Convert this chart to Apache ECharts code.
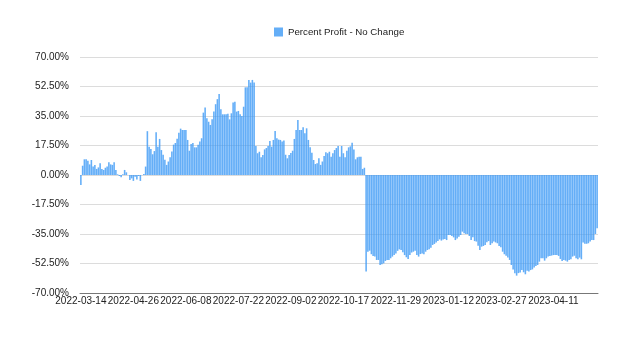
<!DOCTYPE html>
<html>
<head>
<meta charset="utf-8">
<script src="https://cdn.jsdelivr.net/npm/echarts@6/dist/echarts.min.js"></script>
<style>html,body{margin:0;padding:0;background:#fff}#c{width:640px;height:347px}</style>
</head>
<body>
<div id="c"></div>
<script>
// Series name
const seriesName = 'Percent Profit - No Change';
// Trading-day calendar: first date and NYSE holidays in the range
const startDate = '2022-03-14';
const holidays = ['2022-04-15','2022-05-30','2022-06-20','2022-07-04','2022-09-05','2022-11-24','2022-12-26','2023-01-02','2023-01-16','2023-02-20','2023-04-07'];
// Y-axis ticks (percent)
const yTicks = [-70, -52.5, -35, -17.5, 0, 17.5, 35, 52.5, 70];
// Percent profit values (one per trading day)
const profitA = [-6,5.5,9.3,9.3,8.5,6.3,8.9,5,6,3.6,4.5,7,3.6,3,4.3,5,7.5,6.3,6,7.5,3,0.4,-0.6,-1.4,0.5,3,1.6,0,-3,-2,-3.5,-1,-2.6,-0.6,-3.5,0,0.6,5,26,16.8,15.4,12.3,14.2,25.3,16.8,21.4];
const profitB = [14.8,12,9,6,8,10.5,14,18,19,21.5,25,27.5,26.7,26.7,26.7,20.8,14.4,18.4,19,16.4,16.4,18,19.8,21.8,37,40,33.6,31.6,29.7,33,37.6,42,45,48,39,36,36,36,36.4,33,36.6,43,43.5,37.6,38,36,35,40.5,52,52,56.4,54.8,56.4,54.8];
const profitC = [17.2,12.9,13.8,10.5,11.9,15.2,16,17.2,20.2,16.8,20.8,26.1,21.8,21,20.8,19.8,20.4,12,9.9,11.9,13,14.4,21.4,26.7,32.6,26.7,26.7,28.3,24.7,27.7,20.8,16.4,13.2,8.9,6.5,7,9.9,6,8,11.3,13.5,12.9,13.8,10.9,12.9,14.8,16,17.2,10.9,17.2,12.9,10.5,14.4,16.4,17,19.2,15.2,9.3,10.5,10.9,10.9,3.6,4.3];
const profitD = [-57.3,-45.5,-44.9,-47,-48,-48.4,-50.4,-50.4,-53.4,-53,-52.4,-51,-50.4,-50.4,-49.4,-48.4,-47.5,-46.5,-45,-44.1,-44.5,-45.9,-47.5,-48.8,-49.8,-47.5,-46,-45.5,-44.9,-47.5,-48.4,-46.9,-46.5,-47,-45.5,-44.5,-44,-43.1,-41.5,-40.9,-40,-39.2,-38.2,-38.9,-38.2,-38];
const profitE = [-38.6,-35.6,-35.6,-36.2,-37,-38.6,-37.6,-36.6,-35.6,-33.6,-34.5,-35,-35,-36.2,-38.6,-37,-39.2,-39.5,-42,-44.5,-42.5,-42.1,-41.5,-39.9,-39.2,-41.5,-40.5,-39.5,-40,-40.5,-42.1,-42.9,-45.5,-47,-47.9,-49,-50.4,-53.4,-56,-58.3];
const profitF = [-59.7,-58.2,-57.8,-56.4,-57.7,-58.9,-56.8,-57.3,-56.4,-56,-54.8,-54,-53.4,-51.4,-49.4,-49.4,-50.8,-49.4,-48.4,-48,-47.8,-47.5,-47.5,-47.5,-48,-49.8,-51,-50.4,-50.8,-51.4,-50.4,-50,-48.4,-47.9,-49.4,-50,-49,-50,-40,-40.8,-40.8,-40.5,-39.5,-38.6,-38.6,-35,-31.6];

const profit = [].concat(profitA, profitB, profitC, profitD, profitE, profitF);

function tradingDays(start, n, hol) {
  const out = [];
  const d = new Date(start + 'T00:00:00Z');
  while (out.length < n) {
    const s = d.toISOString().slice(0, 10);
    const wd = d.getUTCDay();
    if (wd !== 0 && wd !== 6 && hol.indexOf(s) < 0) out.push(s);
    d.setUTCDate(d.getUTCDate() + 1);
  }
  return out;
}
const dates = tradingDays(startDate, profit.length, holidays);

const chart = echarts.init(document.getElementById('c'), null, {renderer: 'canvas'});
const font = 'Liberation Sans, Arial, Helvetica, sans-serif';
chart.setOption({
  animation: false,
  textStyle: {fontFamily: font},
  legend: {
    data: [seriesName],
    left: 269, top: 22,
    icon: 'rect', itemWidth: 9, itemHeight: 9, itemGap: 7,
    textStyle: {fontSize: 9.7, color: '#222', fontFamily: font}
  },
  grid: {left: 80, right: 42, top: 57, bottom: 54, containLabel: false},
  xAxis: {
    type: 'category',
    data: dates,
    axisTick: {show: false},
    axisLine: {onZero: false, lineStyle: {color: '#777', width: 1}},
    axisLabel: {interval: 29, margin: 3, fontSize: 10, color: '#222', fontFamily: font}
  },
  yAxis: {
    type: 'value',
    min: yTicks[0], max: yTicks[yTicks.length - 1], interval: 17.5,
    axisLine: {show: false},
    axisTick: {show: false},
    splitLine: {lineStyle: {color: '#dcdcdc', width: 1}},
    axisLabel: {margin: 11, fontSize: 10, color: '#222', fontFamily: font,
      formatter: v => v.toFixed(2) + '%'}
  },
  series: [{
    name: seriesName,
    type: 'bar',
    data: profit,
    barCategoryGap: '10%',
    itemStyle: {color: '#3d9af5', opacity: 0.8}
  }]
});
</script>
</body>
</html>
